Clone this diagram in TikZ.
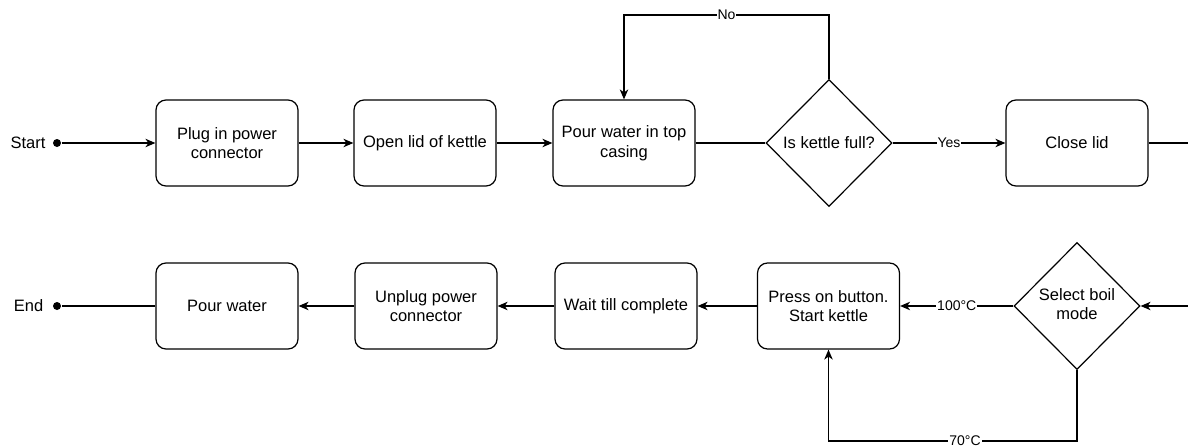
\documentclass[tikz,border=0pt]{standalone}
\usepackage{fontspec}
\setmainfont{Liberation Sans}
\usetikzlibrary{arrows.meta,shapes.geometric}
\begin{document}
\begin{tikzpicture}[x=1pt,y=-1pt,
  line width=1.2pt,
  stepbox/.style={draw, rounded corners=10pt, minimum width=142pt, minimum height=86pt,
    align=center, inner sep=0pt, font=\fontsize{16.5}{19.5}\selectfont},
  decision/.style={draw, diamond, minimum width=126pt, minimum height=127pt,
    inner sep=0pt, align=center, font=\fontsize{16.5}{19.5}\selectfont},
  terminal/.style={font=\fontsize{16.5}{19.5}\selectfont, inner sep=0pt},
  dot/.style={circle, fill=black, minimum size=8pt, inner sep=0pt},
  flow/.style={-{Stealth[length=10pt,width=8.5pt,inset=3pt]}},
  edgelabel/.style={fill=white, inner sep=1pt, font=\fontsize{14}{16}\selectfont}
]
\useasboundingbox (0,0) rectangle (1188,447);

% top row
\node[terminal] (start) at (28,143) {Start};
\node[dot] (startdot) at (57,143) {};
\node[stepbox] (plug) at (227,143) {Plug in power\\connector};
\node[stepbox] (open) at (425,143) {Open lid of kettle};
\node[stepbox] (pour) at (624,143) {Pour water in top\\casing};
\node[decision] (full) at (829,143) {\makebox[0pt]{Is kettle full?}};
\node[stepbox] (close) at (1077,143) {Close lid};
\coordinate (out1) at (1188,143);

% bottom row
\node[terminal] (end) at (28.5,306) {End};
\node[dot] (enddot) at (57,306) {};
\node[stepbox] (pourw) at (227,306) {Pour water};
\node[stepbox] (unplug) at (426,306) {Unplug power\\connector};
\node[stepbox] (wait) at (626,306) {Wait till complete};
\node[stepbox] (press) at (828.5,306) {Press on button.\\Start kettle};
\node[decision] (mode) at (1077,306) {\makebox[0pt]{\begin{tabular}{@{}c@{}}Select boil\\mode\end{tabular}}};
\coordinate (in2) at (1188,306);

% connectors, top row
\draw[flow] (startdot) -- (plug);
\draw[flow] (plug) -- (open);
\draw[flow] (open) -- (pour);
\draw (pour) -- (full);
\draw[flow] (full.north) |- (829,15) -- node[edgelabel] {No} (624,15) -- (pour.north);
\draw[flow] (full.east) -- node[edgelabel, pos=0.5] {Yes} (close.west);
\draw (close.east) -- (out1);

% connectors, bottom row
\draw[flow] (in2) -- (mode.east);
\draw[flow] (mode.west) -- node[edgelabel] {100°C} (press.east);
\draw[flow] (mode.south) |- (965,441) node[edgelabel] {70°C} -| (press.south);
\draw[flow] (press) -- (wait);
\draw[flow] (wait) -- (unplug);
\draw[flow] (unplug) -- (pourw);
\draw (pourw) -- (enddot);
\end{tikzpicture}
\end{document}
